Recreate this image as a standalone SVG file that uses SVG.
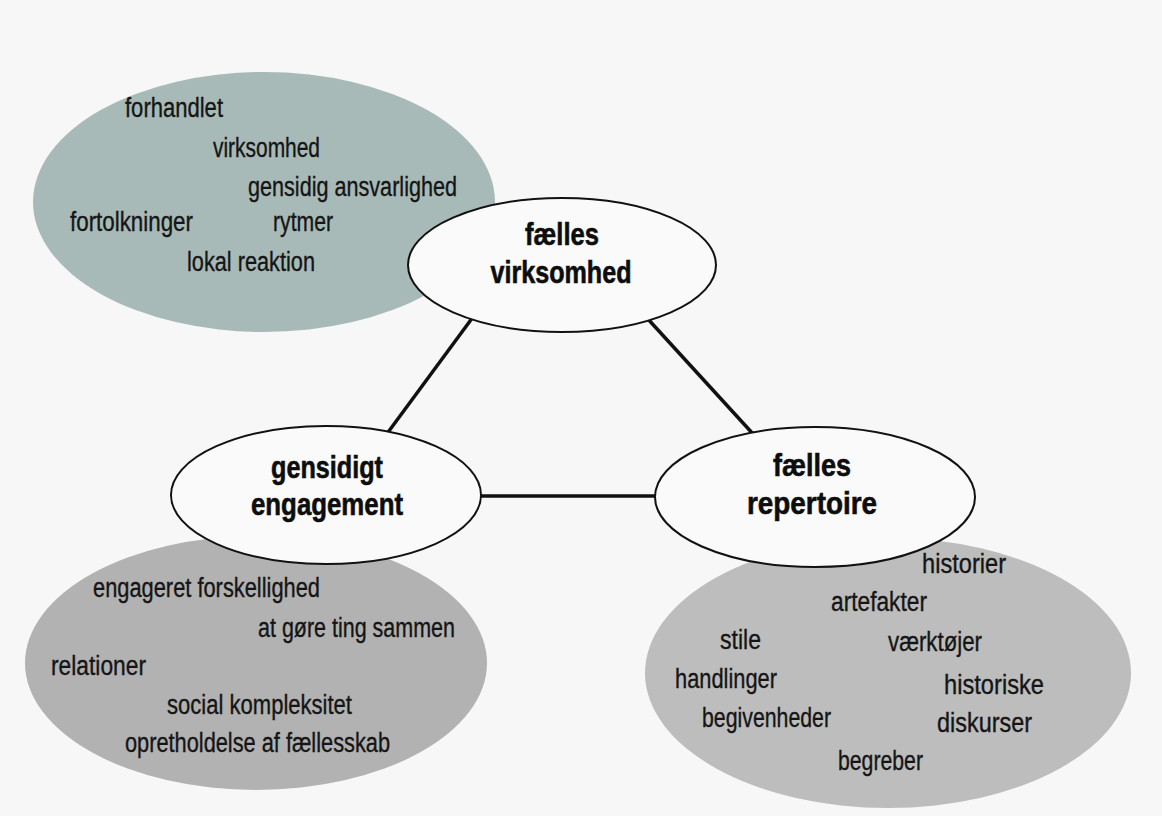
<svg xmlns="http://www.w3.org/2000/svg" width="1162" height="816" viewBox="0 0 1162 816">
<style>
.t{font-family:"Liberation Sans","DejaVu Sans",sans-serif;font-size:27px;fill:#151515;stroke:#151515;stroke-width:0.35}
.b{font-family:"Liberation Sans","DejaVu Sans",sans-serif;font-size:32px;font-weight:bold;fill:#0d0d0d;stroke:#0d0d0d;stroke-width:0.6;text-anchor:middle}
.node{fill:#fafafa;stroke:#111;stroke-width:2}
.edge{stroke:#111;stroke-width:3.5;fill:none}
</style>
<rect x="0" y="0" width="1162" height="816" fill="#f7f7f7"/>
<g id="bubble-virksomhed">
<ellipse cx="264" cy="202" rx="231" ry="130" fill="#a8bab7"/>
<text class="t" x="125" y="117" textLength="98" lengthAdjust="spacingAndGlyphs">forhandlet</text>
<text class="t" x="213" y="157" textLength="107" lengthAdjust="spacingAndGlyphs">virksomhed</text>
<text class="t" x="248" y="196" textLength="209" lengthAdjust="spacingAndGlyphs">gensidig ansvarlighed</text>
<text class="t" x="70" y="231" textLength="123" lengthAdjust="spacingAndGlyphs">fortolkninger</text>
<text class="t" x="273" y="231" textLength="60" lengthAdjust="spacingAndGlyphs">rytmer</text>
<text class="t" x="187" y="271" textLength="128" lengthAdjust="spacingAndGlyphs">lokal reaktion</text>
</g>
<g id="bubble-engagement">
<ellipse cx="256" cy="663" rx="231" ry="127" fill="#b2b2b2"/>
<text class="t" x="93" y="597" textLength="227" lengthAdjust="spacingAndGlyphs">engageret forskellighed</text>
<text class="t" x="258" y="637" textLength="197" lengthAdjust="spacingAndGlyphs">at gøre ting sammen</text>
<text class="t" x="51" y="675" textLength="95" lengthAdjust="spacingAndGlyphs">relationer</text>
<text class="t" x="167" y="714" textLength="185" lengthAdjust="spacingAndGlyphs">social kompleksitet</text>
<text class="t" x="125" y="752" textLength="265" lengthAdjust="spacingAndGlyphs">opretholdelse af fællesskab</text>
</g>
<g id="bubble-repertoire">
<ellipse cx="888" cy="673" rx="243" ry="135" fill="#bdbdbd"/>
<text class="t" x="922" y="573" textLength="84" lengthAdjust="spacingAndGlyphs">historier</text>
<text class="t" x="831" y="611" textLength="96" lengthAdjust="spacingAndGlyphs">artefakter</text>
<text class="t" x="720" y="649" textLength="41" lengthAdjust="spacingAndGlyphs">stile</text>
<text class="t" x="888" y="651" textLength="94" lengthAdjust="spacingAndGlyphs">værktøjer</text>
<text class="t" x="675" y="688" textLength="102" lengthAdjust="spacingAndGlyphs">handlinger</text>
<text class="t" x="944" y="694" textLength="100" lengthAdjust="spacingAndGlyphs">historiske</text>
<text class="t" x="702" y="727" textLength="129" lengthAdjust="spacingAndGlyphs">begivenheder</text>
<text class="t" x="937" y="732" textLength="95" lengthAdjust="spacingAndGlyphs">diskurser</text>
<text class="t" x="838" y="770" textLength="85" lengthAdjust="spacingAndGlyphs">begreber</text>
</g>
<g id="connectors">
<line class="edge" x1="473" y1="317" x2="386" y2="435"/>
<line class="edge" x1="647" y1="318" x2="754" y2="435"/>
<line class="edge" x1="478" y1="496" x2="659" y2="496"/>
</g>
<g id="node-faelles-virksomhed">
<ellipse class="node" cx="562" cy="265" rx="154" ry="67"/>
<text class="b" x="562" y="245" textLength="74" lengthAdjust="spacingAndGlyphs">fælles</text>
<text class="b" x="561" y="283" textLength="141" lengthAdjust="spacingAndGlyphs">virksomhed</text>
</g>
<g id="node-gensidigt-engagement">
<ellipse class="node" cx="326" cy="495" rx="155" ry="69"/>
<text class="b" x="327" y="478" textLength="112" lengthAdjust="spacingAndGlyphs">gensidigt</text>
<text class="b" x="327" y="515" textLength="152" lengthAdjust="spacingAndGlyphs">engagement</text>
</g>
<g id="node-faelles-repertoire">
<ellipse class="node" cx="815" cy="497" rx="160" ry="70"/>
<text class="b" x="812" y="476" textLength="78" lengthAdjust="spacingAndGlyphs">fælles</text>
<text class="b" x="812" y="514" textLength="130" lengthAdjust="spacingAndGlyphs">repertoire</text>
</g>
</svg>
